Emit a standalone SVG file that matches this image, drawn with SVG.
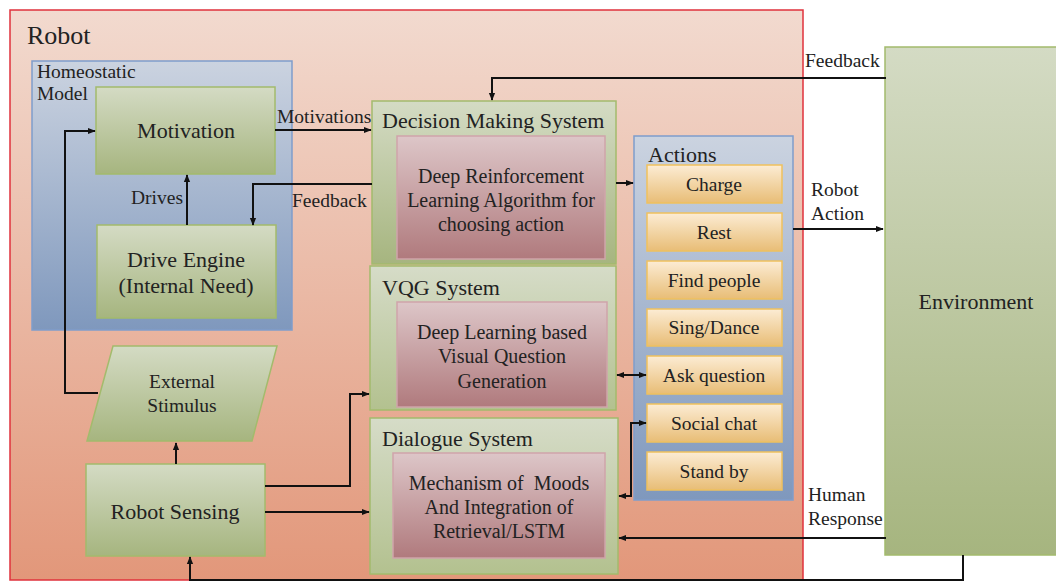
<svg xmlns="http://www.w3.org/2000/svg" width="1056" height="582" viewBox="0 0 1056 582">
  <defs>
    <linearGradient id="gRobot" x1="0" y1="0" x2="0" y2="1">
      <stop offset="0" stop-color="#f2dacf"/>
      <stop offset="1" stop-color="#e2977a"/>
    </linearGradient>
    <linearGradient id="gBlue" x1="0" y1="0" x2="0" y2="1">
      <stop offset="0" stop-color="#cbd3e0"/>
      <stop offset="1" stop-color="#7f98bd"/>
    </linearGradient>
    <linearGradient id="gGreen" x1="0" y1="0" x2="0" y2="1">
      <stop offset="0" stop-color="#d4dbc4"/>
      <stop offset="1" stop-color="#a6b57f"/>
    </linearGradient>
    <linearGradient id="gGreenLight" x1="0" y1="0" x2="0" y2="1">
      <stop offset="0" stop-color="#d6dcc8"/>
      <stop offset="1" stop-color="#b3c18f"/>
    </linearGradient>
    <linearGradient id="gPink" x1="0" y1="0" x2="0" y2="1">
      <stop offset="0" stop-color="#ddc6c8"/>
      <stop offset="1" stop-color="#b07a7d"/>
    </linearGradient>
    <linearGradient id="gOrange" x1="0" y1="0" x2="0" y2="1">
      <stop offset="0" stop-color="#fcecd4"/>
      <stop offset="1" stop-color="#e8bd76"/>
    </linearGradient>
    <marker id="arr" viewBox="0 0 10 10" refX="9" refY="5" markerWidth="8" markerHeight="8" markerUnits="userSpaceOnUse" orient="auto-start-reverse">
      <path d="M0,1 L10,5 L0,9 z" fill="#111"/>
    </marker>
    <style>
      text { font-family: "Liberation Serif", "DejaVu Serif", serif; fill: #222; white-space: pre; }
      .lbl { font-size: 19.5px; }
      .inner { font-size: 20px; }
      .big { font-size: 22px; }
      .title { font-size: 22px; }
      .mid { text-anchor: middle; }
      .green { fill: url(#gGreen); stroke: #a3bb6c; stroke-width: 1.5; }
      .greenL { fill: url(#gGreenLight); stroke: #a3bb6c; stroke-width: 1.5; }
      .pink { fill: url(#gPink); stroke: #cfa4aa; stroke-width: 1.5; }
      .blue { fill: url(#gBlue); stroke: #7f9dcb; stroke-width: 1.5; }
      .act { fill: url(#gOrange); stroke: #efc15e; stroke-width: 1.5; }
      .wire { fill: none; stroke: #111; stroke-width: 2; }
    </style>
  </defs>

  <!-- robot container -->
  <g id="robot">
    <rect x="10" y="10" width="793" height="570" fill="url(#gRobot)" stroke="#e0323c" stroke-width="1.5"/>
    <text x="27" y="44" style="font-size:26px">Robot</text>
  </g>

  <!-- homeostatic model -->
  <g id="homeostatic">
    <rect class="blue" x="32" y="61" width="260" height="269"/>
    <text x="37" y="78" class="lbl">Homeostatic</text>
    <text x="37" y="100" class="lbl">Model</text>
  </g>
  <g id="motivation">
    <rect class="green" x="96" y="87" width="179" height="87"/>
    <text x="186" y="138" class="big mid">Motivation</text>
  </g>
  <g id="drive-engine">
    <rect class="green" x="97" y="225" width="179" height="93"/>
    <text x="186" y="267" class="big mid">Drive Engine</text>
    <text x="186" y="293" class="big mid">(Internal Need)</text>
  </g>

  <!-- decision making -->
  <g id="decision">
    <rect class="green" x="372" y="101" width="244" height="163"/>
    <text x="382" y="128" class="title">Decision Making System</text>
    <rect class="pink" x="397" y="136" width="208" height="123"/>
    <text x="501" y="183" class="inner mid">Deep Reinforcement</text>
    <text x="501" y="207" class="inner mid">Learning Algorithm for</text>
    <text x="501" y="231" class="inner mid">choosing action</text>
  </g>

  <!-- VQG -->
  <g id="vqg">
    <rect class="greenL" x="370" y="266" width="246" height="144"/>
    <text x="382" y="295" class="title">VQG System</text>
    <rect class="pink" x="397" y="302" width="210" height="105"/>
    <text x="502" y="339" class="inner mid">Deep Learning based</text>
    <text x="502" y="363" class="inner mid">Visual Question</text>
    <text x="502" y="388" class="inner mid">Generation</text>
  </g>

  <!-- dialogue -->
  <g id="dialogue">
    <rect class="greenL" x="370" y="418" width="248" height="156"/>
    <text x="382" y="446" class="title">Dialogue System</text>
    <rect class="pink" x="393" y="453" width="212" height="105"/>
    <text x="499" y="490" class="inner mid">Mechanism of  Moods</text>
    <text x="499" y="514" class="inner mid">And Integration of</text>
    <text x="499" y="538" class="inner mid">Retrieval/LSTM</text>
  </g>

  <!-- actions -->
  <g id="actions">
    <rect class="blue" x="634" y="136" width="159" height="364"/>
    <text x="648" y="162" class="title">Actions</text>
  </g>
  <g id="act-charge"><rect class="act" x="647" y="165" width="135" height="38"/><text x="714" y="191" class="lbl mid">Charge</text></g>
  <g id="act-rest"><rect class="act" x="647" y="213" width="135" height="38"/><text x="714" y="239" class="lbl mid">Rest</text></g>
  <g id="act-find"><rect class="act" x="647" y="261" width="135" height="38"/><text x="714" y="287" class="lbl mid">Find people</text></g>
  <g id="act-sing"><rect class="act" x="647" y="309" width="135" height="37"/><text x="714" y="334" class="lbl mid">Sing/Dance</text></g>
  <g id="act-ask"><rect class="act" x="647" y="356" width="135" height="38"/><text x="714" y="382" class="lbl mid">Ask question</text></g>
  <g id="act-chat"><rect class="act" x="647" y="404" width="135" height="38"/><text x="714" y="430" class="lbl mid">Social chat</text></g>
  <g id="act-standby"><rect class="act" x="647" y="452" width="135" height="38"/><text x="714" y="478" class="lbl mid">Stand by</text></g>

  <!-- environment -->
  <g id="environment">
    <rect class="green" x="885" y="47" width="180" height="508"/>
    <text x="976" y="309" class="big mid">Environment</text>
  </g>

  <!-- external stimulus -->
  <g id="external-stimulus">
    <polygon class="green" points="113,346 277,346 252,441 87,441"/>
    <text x="182" y="388" class="lbl mid">External</text>
    <text x="182" y="412" class="lbl mid">Stimulus</text>
  </g>

  <!-- robot sensing -->
  <g id="robot-sensing">
    <rect class="green" x="86" y="464" width="179" height="92"/>
    <text x="175" y="519" class="big mid">Robot Sensing</text>
  </g>

  <!-- connectors -->
  <g id="connectors">
    <path class="wire" d="M187,225 V175" marker-end="url(#arr)"/>
    <path class="wire" d="M275,130 H371" marker-end="url(#arr)"/>
    <path class="wire" d="M372,184 H253 V225" marker-end="url(#arr)"/>
    <path class="wire" d="M886,78 H492 V100" marker-end="url(#arr)"/>
    <path class="wire" d="M616,183 H633" marker-end="url(#arr)"/>
    <path class="wire" d="M793,229 H883" marker-end="url(#arr)"/>
    <path class="wire" d="M617,375 H646" marker-start="url(#arr)" marker-end="url(#arr)"/>
    <path class="wire" d="M619,496 H631 V423 H646" marker-start="url(#arr)" marker-end="url(#arr)"/>
    <path class="wire" d="M886,538 H619" marker-end="url(#arr)"/>
    <path class="wire" d="M963,555 V580 H190 V557" marker-end="url(#arr)"/>
    <path class="wire" d="M176,464 V443" stroke-width="3" marker-end="url(#arr)"/>
    <path class="wire" d="M265,486 H350 V394 H369" marker-end="url(#arr)"/>
    <path class="wire" d="M265,512 H369" marker-end="url(#arr)"/>
    <path class="wire" d="M98,393 H65 V131 H95" marker-end="url(#arr)"/>

    <text x="131" y="204" class="lbl">Drives</text>
    <text x="277" y="123" class="lbl">Motivations</text>
    <text x="292" y="207" class="lbl">Feedback</text>
    <text x="805" y="67" class="lbl">Feedback</text>
    <text x="811" y="196" class="lbl">Robot</text>
    <text x="811" y="220" class="lbl">Action</text>
    <text x="808" y="501" class="lbl">Human</text>
    <text x="808" y="525" class="lbl">Response</text>
  </g>
</svg>
